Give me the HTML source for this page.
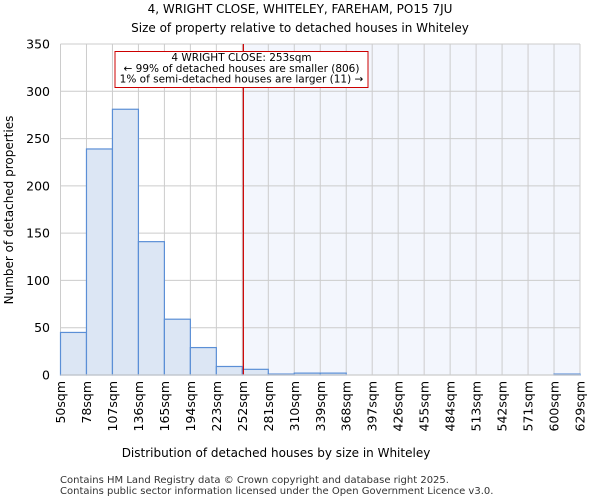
<!DOCTYPE html>
<html><head><meta charset="utf-8"><style>
body{margin:0;background:#fff;font-family:"DejaVu Sans","Liberation Sans",sans-serif}
</style></head><body>
<svg width="600" height="500" id="c" xmlns="http://www.w3.org/2000/svg" font-family="DejaVu Sans, Liberation Sans, sans-serif">
<text x="300" y="13" text-anchor="middle" font-size="12">4, WRIGHT CLOSE, WHITELEY, FAREHAM, PO15 7JU</text>
<text x="300" y="32" text-anchor="middle" font-size="12">Size of property relative to detached houses in Whiteley</text>
<text x="276" y="457" text-anchor="middle" font-size="12">Distribution of detached houses by size in Whiteley</text>
<text transform="translate(13,210) rotate(-90)" text-anchor="middle" font-size="12">Number of detached properties</text>
<text x="60" y="483" font-size="10" fill="#333">Contains HM Land Registry data © Crown copyright and database right 2025.</text>
<text x="60" y="494" font-size="10" fill="#333">Contains public sector information licensed under the Open Government Licence v3.0.</text>
<g id="g"></g>
</svg>
<script>
const binLabels=["50sqm","78sqm","107sqm","136sqm","165sqm","194sqm","223sqm","252sqm","281sqm","310sqm","339sqm","368sqm","397sqm","426sqm","455sqm","484sqm","513sqm","542sqm","571sqm","600sqm","629sqm"];
const counts=[45,239,281,141,59,29,9,6,1,2,2,0,0,0,0,0,0,0,0,1];
const yTicks=[0,50,100,150,200,250,300,350];
const propertyBin=7.04;
const NS="http://www.w3.org/2000/svg";
const g=document.getElementById('g');
const L=60.5,R=580,T=44,B=375,ymax=350;
const bw=(R-L)/counts.length;
const xs=i=>L+i*bw;
const ys=v=>B-v/ymax*(B-T);
function mk(t,a,txt){const e=document.createElementNS(NS,t);for(const k in a)e.setAttribute(k,a[k]);if(txt!=null)e.textContent=txt;g.appendChild(e);return e;}
const px=xs(propertyBin);
let e=mk('rect',{x:px,y:T,width:R-px,height:B-T,fill:'#f3f6fd'});


for(let i=0;i<binLabels.length;i++){
 e=mk('line',{x1:xs(i),x2:xs(i),y1:T,y2:B,stroke:'#ccc','stroke-width':1});
 
 
 e=mk('text',{transform:`translate(${xs(i)+4.5},381) rotate(-90)`,'text-anchor':'end','font-size':12.5},binLabels[i]);
 
 
}
yTicks.forEach(v=>{
 e=mk('line',{x1:L,x2:R,y1:ys(v),y2:ys(v),stroke:'#ccc','stroke-width':1});
 
 
 e=mk('text',{x:50,y:ys(v)+4.5,'text-anchor':'end','font-size':12.5},String(v));
 
 
});
counts.forEach((c,i)=>{
 if(c<=0)return;
 e=mk('rect',{x:xs(i),y:ys(c),width:bw,height:B-ys(c),fill:'#dce6f4',stroke:'#5b8fd6','stroke-width':1.2});
 
 
});
e=mk('line',{x1:px,x2:px,y1:T,y2:B,stroke:'#c00','stroke-width':1.2});


e=mk('rect',{x:115,y:51.5,width:253,height:36,fill:'#fff',stroke:'#c00','stroke-width':1});


[["4 WRIGHT CLOSE: 253sqm",61],["← 99% of detached houses are smaller (806)",72],["1% of semi-detached houses are larger (11) →",82.5]].forEach(([t,y])=>{
 e=mk('text',{x:241.5,y:y,'text-anchor':'middle','font-size':10.5},t);
 
 
});
e=mk('line',{x1:L,x2:R,y1:B,y2:B,stroke:'#ccc','stroke-width':1.2});


</script>
</body></html>
